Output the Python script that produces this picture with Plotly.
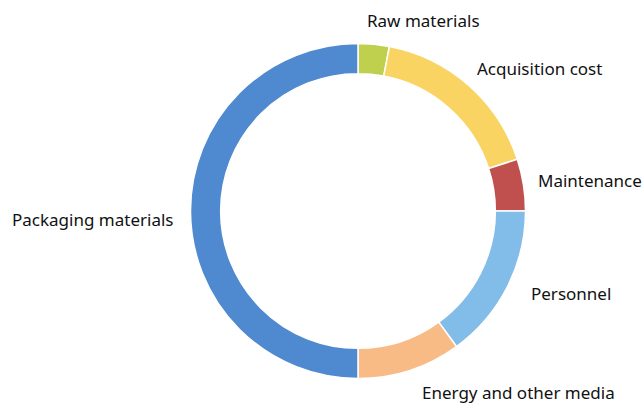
import plotly.graph_objects as go

labels = ["Raw materials", "Acquisition cost", "Maintenance", "Personnel",
          "Energy and other media", "Packaging materials"]
values = [3, 17, 5, 15, 10, 50]
colors = ["#BFD04E", "#F9D462", "#C0504D", "#82BCE9", "#F9BB86", "#4F89D0"]

W, H = 643, 403
cx, cy, r = 358, 211, 167.5

# label placement (pixels: left edge, vertical centre) – layout only
label_pos = [(366, 20), (476, 69), (537, 180), (530, 293), (421, 392), (11, 219)]

fig = go.Figure(go.Pie(
    labels=labels, values=values, sort=False, direction="clockwise", rotation=0,
    hole=0.82, marker=dict(colors=colors, line=dict(color="white", width=1.5)),
    textinfo="none",
    domain=dict(x=[(cx - r) / W, (cx + r) / W], y=[(H - cy - r) / H, (H - cy + r) / H]),
    showlegend=False, hoverinfo="label+value",
))
for lab, (px, py) in zip(labels, label_pos):
    fig.add_annotation(text=lab, x=px / W, y=1 - py / H, xref="paper", yref="paper",
                       xanchor="left", yanchor="middle", showarrow=False,
                       borderpad=0,
                       font=dict(family="Noto Sans", size=17, color="#111111"))
fig.update_layout(width=W, height=H, margin=dict(l=0, r=0, t=0, b=0),
                  paper_bgcolor="white", plot_bgcolor="white")
fig.write_html("out.html")
